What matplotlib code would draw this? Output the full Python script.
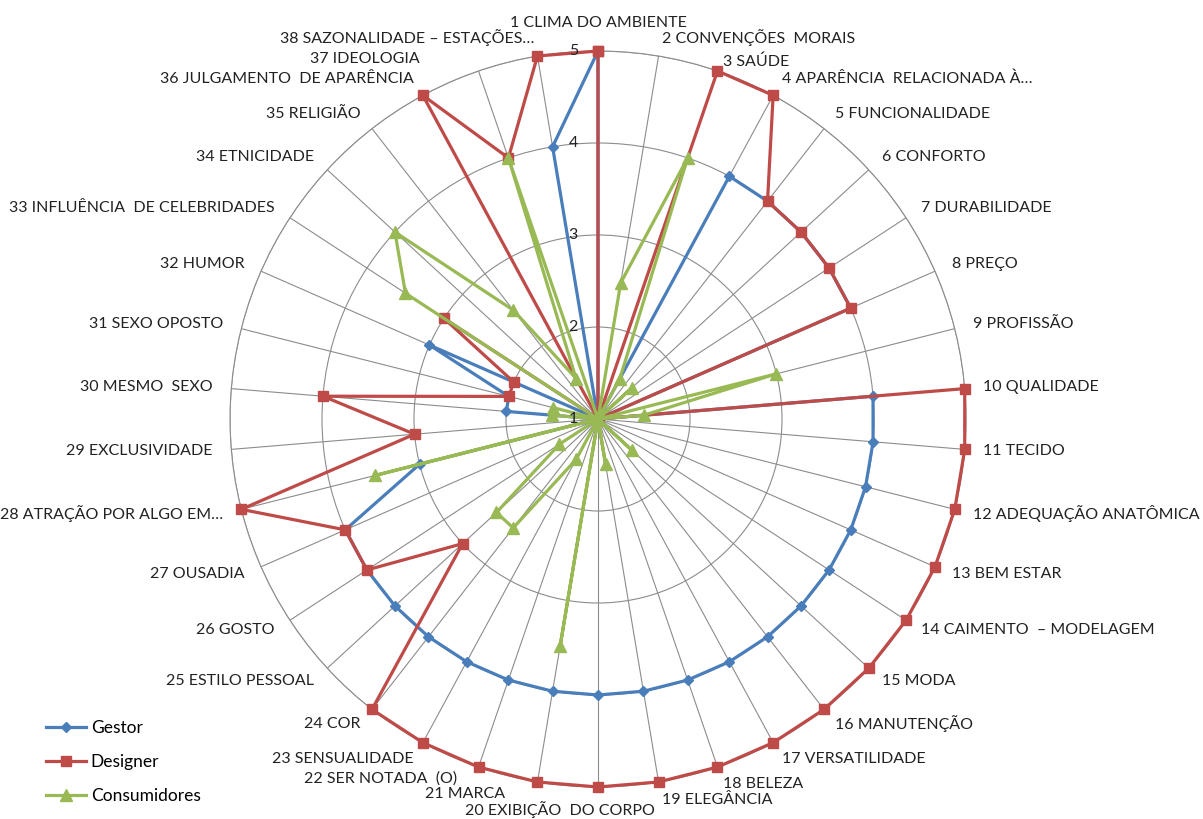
import matplotlib
matplotlib.use('Agg')
import matplotlib.pyplot as plt
import matplotlib.transforms as mtransforms
from matplotlib.lines import Line2D
import numpy as np

plt.rc('font', family=['Lato', 'DejaVu Sans'], size=11.5)

categories = [
    '1 CLIMA DO AMBIENTE', '2 CONVENÇÕES  MORAIS', '3 SAÚDE',
    '4 APARÊNCIA  RELACIONADA À…', '5 FUNCIONALIDADE', '6 CONFORTO',
    '7 DURABILIDADE', '8 PREÇO', '9 PROFISSÃO', '10 QUALIDADE', '11 TECIDO',
    '12 ADEQUAÇÃO ANATÔMICA', '13 BEM ESTAR', '14 CAIMENTO  – MODELAGEM',
    '15 MODA', '16 MANUTENÇÃO', '17 VERSATILIDADE', '18 BELEZA',
    '19 ELEGÂNCIA', '20 EXIBIÇÃO  DO CORPO', '21 MARCA', '22 SER NOTADA  (O)',
    '23 SENSUALIDADE', '24 COR', '25 ESTILO PESSOAL', '26 GOSTO',
    '27 OUSADIA', '28 ATRAÇÃO POR ALGO EM…', '29 EXCLUSIVIDADE',
    '30 MESMO  SEXO', '31 SEXO OPOSTO', '32 HUMOR',
    '33 INFLUÊNCIA  DE CELEBRIDADES', '34 ETNICIDADE', '35 RELIGIÃO',
    '36 JULGAMENTO  DE APARÊNCIA', '37 IDEOLOGIA',
    '38 SAZONALIDADE – ESTAÇÕES…',
]

gestor = [5, 1, 1, 4, 4, 4, 4, 4, 1, 4, 4, 4, 4, 4, 4, 4, 4, 4, 4,
          4, 4, 4, 4, 4, 4, 4, 4, 3, 1, 2, 2, 3, 1, 1, 1, 1, 1, 4]
designer = [5, 1, 5, 5, 4, 4, 4, 4, 1, 5, 5, 5, 5, 5, 5, 5, 5, 5, 5,
            5, 5, 5, 5, 5, 3, 4, 4, 5, 3, 4, 2, 2, 3, 1, 1, 5, 4, 5]
consumidores = [1, 2.5, 4, 1.5, 1, 1.5, 1, 1, 3, 1.5, 1, 1, 1, 1, 1.5, 1, 1,
                1, 1.5, 1, 3.5, 1, 1.5, 2.5, 2.5, 1.5, 1, 3.5, 1, 1.5, 1.5,
                1, 3.5, 4, 2.5, 1.5, 4, 1]
series_names = ['Gestor', 'Designer', 'Consumidores']
ring_values = [1, 2, 3, 4, 5]

colors = ['#4A7EBB', '#BE4B48', '#98B954']
markers = ['D', 's', '^']
msizes = [5, 7, 8]

# pixel nudges for a few crowded category labels (index: (dx, dy))
label_nudge = {0: (0, 10), 2: (0, -8), 19: (-38, -4), 20: (-29, 6),
               21: (-15, 6), 36: (-53, -5)}

W, H = 1203, 819
fig = plt.figure(figsize=(W / 100, H / 100), dpi=100)
cx, cy, R = 598, 419, 368
ax = fig.add_axes([(cx - R) / W, (H - cy - R) / H, 2 * R / W, 2 * R / H],
                  projection='polar')
ax.set_theta_zero_location('N')
ax.set_theta_direction(-1)

n = len(categories)
theta = np.arange(n) * 2 * np.pi / n

# grid
ax.set_ylim(1, 5)
ax.set_yticks(ring_values[1:])
ax.set_yticklabels([])
ax.set_xticks(theta)
ax.set_xticklabels([])
ax.grid(True, color='#8c8c8c', linewidth=0.8)
ax.spines['polar'].set_color('#8c8c8c')
ax.spines['polar'].set_linewidth(0.8)

for vals, name, c, m, ms in zip([gestor, designer, consumidores], series_names,
                                colors, markers, msizes):
    v = np.array(vals + vals[:1], dtype=float)
    t = np.append(theta, theta[0])
    ax.plot(t, v, color=c, linewidth=2.3, marker=m, markersize=ms,
            label=name, clip_on=False, zorder=3)

# radial value labels
off = mtransforms.offset_copy(ax.transData, fig=fig, x=-20, y=0, units='dots')
for v in ring_values:
    ax.text(0, v, str(v), transform=off, ha='right', va='center',
            fontsize=11.5, color='#222222', zorder=5)

# category labels
for i, (t, lab) in enumerate(zip(theta, categories)):
    deg = np.degrees(t)
    if abs(deg) < 1 or abs(deg - 180) < 1:
        ha = 'center'
    elif deg < 180:
        ha = 'left'
    else:
        ha = 'right'
    dx, dy = label_nudge.get(i, (0, 0))
    tr = mtransforms.offset_copy(ax.transData, fig=fig, x=dx, y=dy,
                                 units='dots')
    ax.text(t, 5.2, lab, transform=tr, ha=ha, va='center', color='#222222')

handles = [Line2D([], [], color=c, marker=m, markersize=ms, linewidth=2.3)
           for c, m, ms in zip(colors, markers, msizes)]
fig.legend(handles, series_names, loc='upper left',
           bbox_to_anchor=(30 / W, 1 - 704 / H), frameon=False,
           handlelength=2.3, labelspacing=1.05, handletextpad=0.3,
           fontsize=12.5)

fig.savefig('out.png', dpi=100)
